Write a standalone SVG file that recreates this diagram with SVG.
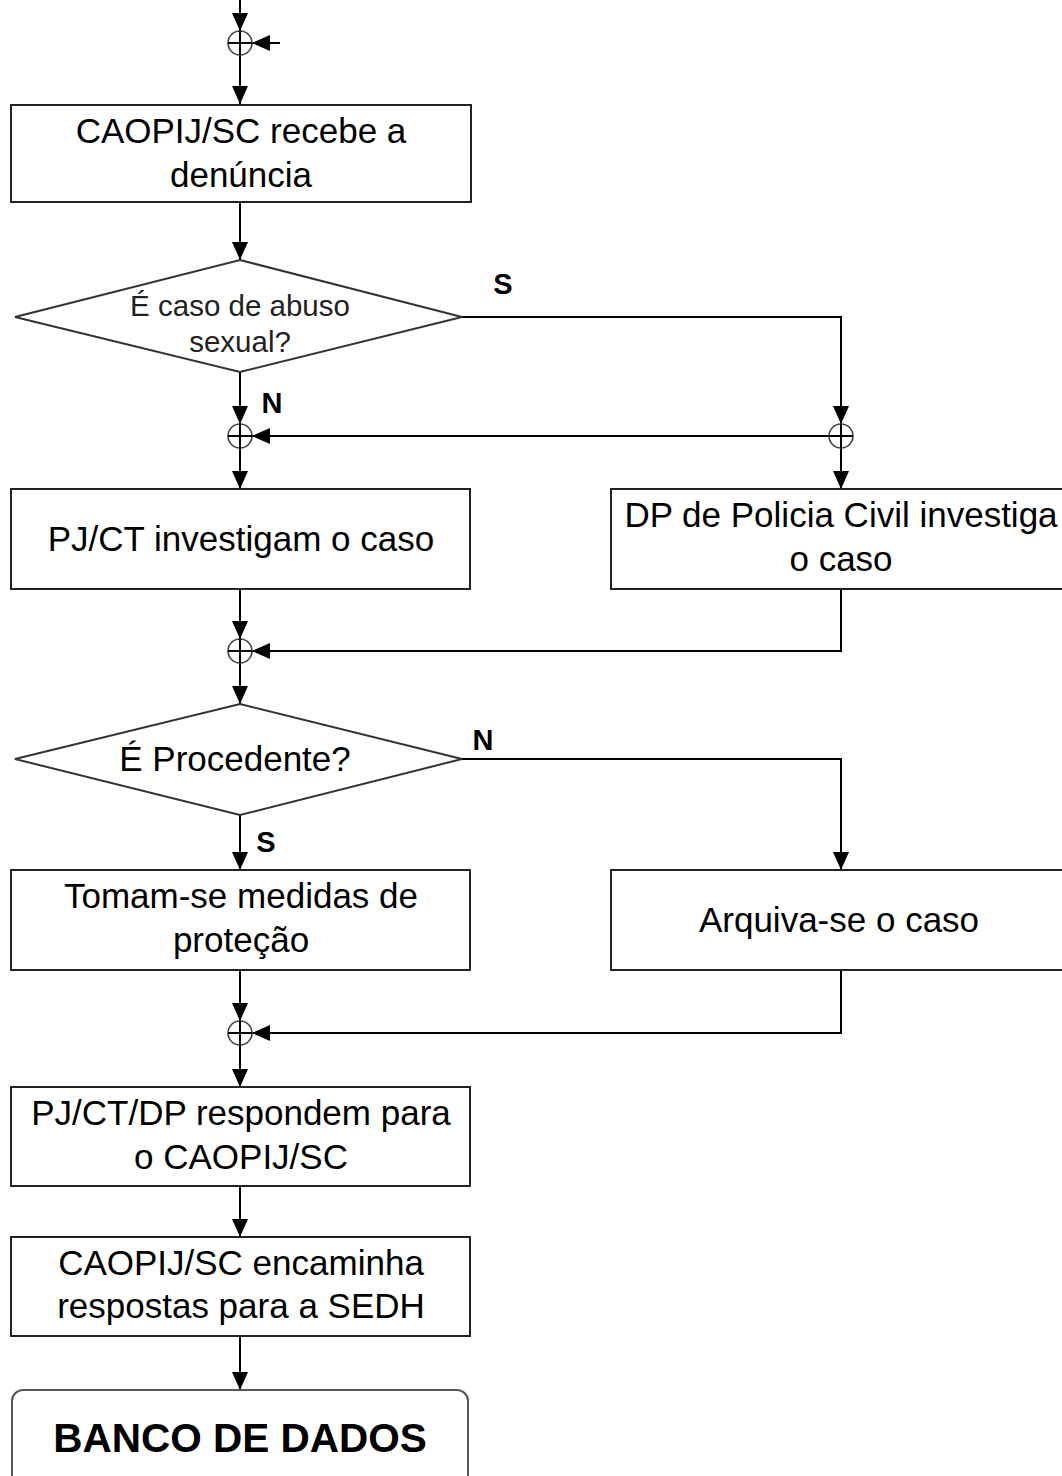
<svg xmlns="http://www.w3.org/2000/svg" width="1062" height="1476" viewBox="0 0 1062 1476">
<style>
.box{fill:#fff;stroke:#222;stroke-width:2}
.dia{fill:#fff;stroke:#333;stroke-width:2}
.c{stroke:#000;stroke-width:2;fill:none}
.j{fill:none;stroke:#444;stroke-width:1.6}
.t{font-family:"Liberation Sans",Arial,sans-serif;font-size:35px;text-anchor:middle;fill:#000}
.td{font-family:"Liberation Sans",Arial,sans-serif;font-size:29.5px;text-anchor:middle;fill:#222}
.lb{font-family:"Liberation Sans",Arial,sans-serif;font-size:29px;font-weight:bold;text-anchor:middle;fill:#000}
.big{font-family:"Liberation Sans",Arial,sans-serif;font-size:40.5px;font-weight:bold;text-anchor:middle;fill:#000}
</style>
<defs>
<marker id="ah" markerUnits="userSpaceOnUse" markerWidth="18" markerHeight="16" refX="18" refY="8" orient="auto">
<path d="M0,0 L18,8 L0,16 z" fill="#000"/>
</marker>
</defs>
<rect width="1062" height="1476" fill="#fff"/>
<g id="connectors">
<path class="c" d="M240,0 V31" marker-end="url(#ah)"/>
<path class="c" d="M280,43 H252" marker-end="url(#ah)"/>
<path class="c" d="M240,55 V104" marker-end="url(#ah)"/>
<path class="c" d="M240,202 V260" marker-end="url(#ah)"/>
<path class="c" d="M462,317 H841 V424" marker-end="url(#ah)"/>
<path class="c" d="M841,448 V489" marker-end="url(#ah)"/>
<path class="c" d="M829,436 H252" marker-end="url(#ah)"/>
<path class="c" d="M240,372 V424" marker-end="url(#ah)"/>
<path class="c" d="M240,448 V489" marker-end="url(#ah)"/>
<path class="c" d="M240,589 V639" marker-end="url(#ah)"/>
<path class="c" d="M841,589 V651 H252" marker-end="url(#ah)"/>
<path class="c" d="M240,663 V704" marker-end="url(#ah)"/>
<path class="c" d="M462,759 H841 V870" marker-end="url(#ah)"/>
<path class="c" d="M240,815 V870" marker-end="url(#ah)"/>
<path class="c" d="M240,970 V1021" marker-end="url(#ah)"/>
<path class="c" d="M841,970 V1033 H252" marker-end="url(#ah)"/>
<path class="c" d="M240,1045 V1087" marker-end="url(#ah)"/>
<path class="c" d="M240,1186 V1237" marker-end="url(#ah)"/>
<path class="c" d="M240,1336 V1390" marker-end="url(#ah)"/>
<text class="lb" x="503" y="294">S</text>
<text class="lb" x="272" y="413">N</text>
<text class="lb" x="483" y="750">N</text>
<text class="lb" x="266" y="852">S</text>
</g>
<g id="j1"><circle class="j" cx="240" cy="43" r="12"/><path class="c" d="M228,43 H252 M240,31 V55" stroke-width="1.6"/></g>
<g id="j2"><circle class="j" cx="240" cy="436" r="12"/><path class="c" d="M228,436 H252 M240,424 V448" stroke-width="1.6"/></g>
<g id="j3"><circle class="j" cx="841" cy="436" r="12"/><path class="c" d="M829,436 H853 M841,424 V448" stroke-width="1.6"/></g>
<g id="j4"><circle class="j" cx="240" cy="651" r="12"/><path class="c" d="M228,651 H252 M240,639 V663" stroke-width="1.6"/></g>
<g id="j5"><circle class="j" cx="240" cy="1033" r="12"/><path class="c" d="M228,1033 H252 M240,1021 V1045" stroke-width="1.6"/></g>
<g id="n1"><rect class="box" x="11" y="105" width="460" height="97"/>
<text class="t" x="241" y="143">CAOPIJ/SC recebe a</text><text class="t" x="241" y="187">denúncia</text></g>
<g id="d1"><polygon class="dia" points="240,260 462,317 240,372 15,317"/>
<text class="td" x="240" y="316">É caso de abuso</text><text class="td" x="240" y="352">sexual?</text></g>
<g id="n2"><rect class="box" x="11" y="489" width="459" height="100"/>
<text class="t" x="241" y="551">PJ/CT investigam o caso</text></g>
<g id="n3"><rect class="box" x="611" y="489" width="460" height="100"/>
<text class="t" x="841" y="527">DP de Policia Civil investiga</text><text class="t" x="841" y="571">o caso</text></g>
<g id="d2"><polygon class="dia" points="240,704 462,759 240,815 15,759"/>
<text class="t" x="235" y="771">É Procedente?</text></g>
<g id="n4"><rect class="box" x="11" y="870" width="459" height="100"/>
<text class="t" x="241" y="908">Tomam-se medidas de</text><text class="t" x="241" y="952">proteção</text></g>
<g id="n5"><rect class="box" x="611" y="870" width="460" height="100"/>
<text class="t" x="839" y="932">Arquiva-se o caso</text></g>
<g id="n6"><rect class="box" x="11" y="1087" width="459" height="99"/>
<text class="t" x="241" y="1125">PJ/CT/DP respondem para</text><text class="t" x="241" y="1169">o CAOPIJ/SC</text></g>
<g id="n7"><rect class="box" x="11" y="1237" width="459" height="99"/>
<text class="t" x="241" y="1275">CAOPIJ/SC encaminha</text><text class="t" x="241" y="1318">respostas para a SEDH</text></g>
<g id="n8"><rect x="12" y="1390" width="456" height="110" rx="11" ry="11" fill="#fff" stroke="#555" stroke-width="2"/>
<text class="big" x="240" y="1452">BANCO DE DADOS</text></g>
</svg>
